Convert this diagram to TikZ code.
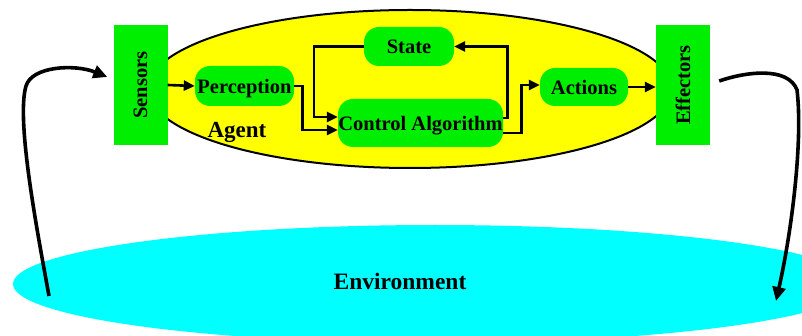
\documentclass[tikz,border=0pt]{standalone}
\usepackage{fontspec}
\setmainfont{Liberation Serif}
\usetikzlibrary{arrows.meta,shapes.geometric,calc}

\definecolor{boxgreen}{RGB}{0,238,0}
\definecolor{agentyellow}{RGB}{255,255,0}
\definecolor{envcyan}{RGB}{0,255,255}

\tikzset{
  lbl/.style={font=\fontsize{20.5}{24}\selectfont\bfseries},
  pill/.style={lbl, fill=boxgreen, rounded corners=15pt, inner sep=0pt,
               text height=15pt, text depth=0pt},
  device/.style={lbl, fill=boxgreen, rotate=90, inner sep=0pt,
                 minimum width=120pt, minimum height=54pt},
  flow/.style={line width=2.6pt, -{Triangle[length=11pt,width=10pt]}},
  loop/.style={line width=3.6pt, -{Triangle[length=14pt,width=13pt]}},
}

\begin{document}
\begin{tikzpicture}[x=1pt, y=-1pt]
  \useasboundingbox (0,0) rectangle (802,336);

  % environment
  \node[ellipse, fill=envcyan, minimum width=844pt, minimum height=118pt,
        inner sep=0pt] (env) at (435,284) {};
  \node[font=\fontsize{23.5}{28}\selectfont\bfseries] (envtext) at (400,281) {Environment};

  % agent body
  \node[ellipse, draw, line width=2pt, fill=agentyellow,
        minimum width=524pt, minimum height=158pt, inner sep=0pt] (agent) at (410,89) {};
  \node[font=\fontsize{23}{27}\selectfont\bfseries] (agenttext) at (237,132) {Agent};

  % sensors and effectors
  \node[device] (sens) at (140.5,85) {Sensors};
  \node[device] (eff)  at (683,85)   {Effectors};

  % internal modules
  \node[pill, minimum width=99pt,  minimum height=40pt] (perc)  at (244.5,86) {Perception};
  \node[pill, minimum width=90pt,  minimum height=39pt] (state) at (409,46.5) {State};
  \node[pill, minimum width=165pt, minimum height=48pt] (ctrl)  at (420.5,123) {Control Algorithm};
  \node[pill, minimum width=88pt,  minimum height=38pt] (act)   at (584,87)  {Actions};

  % internal flow
  \draw[flow] (sens.south) -- (perc.west);
  \draw[flow] (perc.east) -- ++(8,0) |- ($(ctrl.west)+(0,7)$);
  \draw[flow] (state.west) -- ++(-50,0) |- ($(ctrl.west)+(0,-6)$);
  \draw[flow] ($(ctrl.east)+(0,-5)$) -- ++(4,0) |- (state.east);
  \draw[flow] ($(ctrl.east)+(0,10)$) -- ++(18,0) |- ($(act.west)+(0,-2)$);
  \draw[flow] (act.east) -- (eff.north |- act.east);

  % loop through the environment
  \coordinate (envin)  at (49,296);
  \coordinate (envout) at (776,301);
  \draw[loop] (envin) .. controls (37,230) and (16,120) .. (26,86)
              .. controls (32,66) and (75,64) .. ($(sens.north)+(-6,-8)$);
  \draw[loop] ($(eff.south)+(9,-4)$) .. controls (745,72) and (788,66) .. (797,90)
              .. controls (803,140) and (792,230) .. (envout);
\end{tikzpicture}
\end{document}
